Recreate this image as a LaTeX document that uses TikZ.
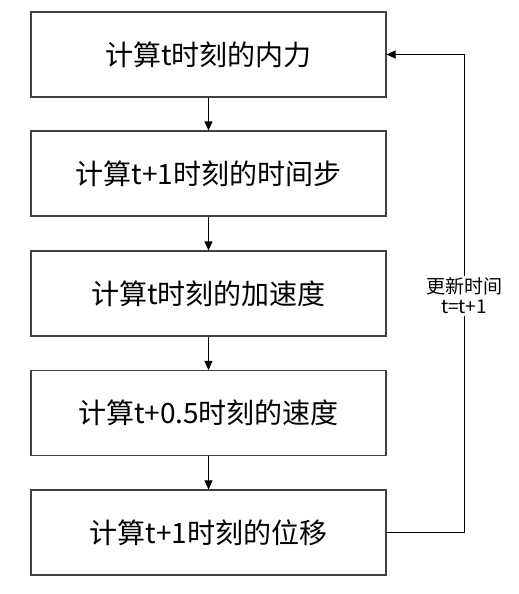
\documentclass[tikz,border=0pt]{standalone}
\usepackage{fontspec}
\setmainfont{Noto Sans CJK SC}
\usetikzlibrary{arrows.meta, positioning}
\tikzset{
  calcblock/.style={rectangle, draw=black!75, line width=1.1pt,
                    minimum width=355pt, minimum height=85pt,
                    inner sep=0pt, align=center,
                    font=\fontsize{28}{33}\selectfont},
  calcarrow/.style={-{Triangle[length=9pt, width=8pt]}, line width=0.8pt, black},
  looplabel/.style={fill=white, align=center, inner sep=2pt,
                    font=\fontsize{19}{23}\selectfont},
}
\begin{document}
\begin{tikzpicture}[x=1pt, y=-1pt]
  \useasboundingbox (0,0) rectangle (519,594);
  \node[calcblock] (force) at (208.5, 54.5) {计算t时刻的内力};
  \node[calcblock] (dt)    at (208.5, 173.5) {计算t+1时刻的时间步};
  \node[calcblock] (acc)   at (208.5, 293.5) {计算t时刻的加速度};
  \node[calcblock] (vel)   at (208.5, 413) {计算t+0.5时刻的速度};
  \node[calcblock] (disp)  at (208.5, 532.5) {计算t+1时刻的位移};
  \coordinate (lowturn) at (464, 532.5);
  \coordinate (upturn)  at (464, 54.5);
  \draw[calcarrow] (force) -- (dt);
  \draw[calcarrow] (dt) -- (acc);
  \draw[calcarrow] (acc) -- (vel);
  \draw[calcarrow] (vel) -- (disp);
  \draw[calcarrow] (disp.east) -- (lowturn) -- (upturn) -- (force.east);
  \node[looplabel] (update) at (464, 296) {更新时间\\[-3pt]t=t+1};
\end{tikzpicture}
\end{document}
